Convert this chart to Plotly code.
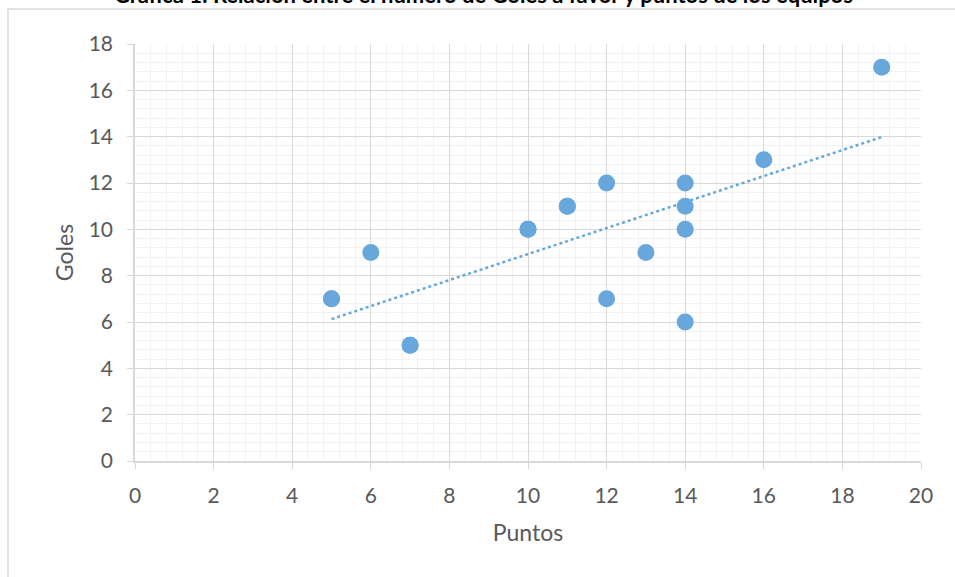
import numpy as np
import plotly.graph_objects as go

# Puntos (x) y goles (y) de cada equipo
puntos = [5, 5, 6, 7, 7, 10, 10, 11, 11, 12, 12, 13, 14, 14, 14, 14, 16, 19]
goles = [7, 7, 9, 5, 5, 10, 10, 11, 11, 12, 7, 9, 12, 11, 10, 6, 13, 17]

titulo = "Gráfica 1: Relación entre el número de Goles a favor y puntos de los equipos"

BLUE = "#67A7DC"
GRID = "#D9D9D9"
MINOR = "#F2F2F2"
TXT = "#595959"
FONT = "Lato"

W, H = 955, 577
L, R, T, B = 135, 34, 44, 116
pw, ph = W - L - R, H - T - B


def px_x(p):
    return (p - L) / pw


def px_y(p):
    return (H - B - p) / ph


# linea de tendencia lineal (ajuste por minimos cuadrados, como en Excel)
m, c = np.polyfit(puntos, goles, 1)
tx = [min(puntos), max(puntos)]
ty = [m * v + c for v in tx]

fig = go.Figure()
fig.add_trace(go.Scatter(x=tx, y=ty, mode="lines", hoverinfo="skip",
                         line=dict(color=BLUE, width=2.5, dash="dot")))
fig.add_trace(go.Scatter(x=puntos, y=goles, mode="markers",
                         marker=dict(color=BLUE, size=17,
                                     line=dict(width=0))))

axis_common = dict(
    showline=True, linecolor=GRID, linewidth=1.5,
    ticks="outside", ticklen=6, tickcolor=GRID, tickwidth=1,
    showgrid=True, gridcolor=GRID, gridwidth=1,
    zeroline=False, dtick=2, tick0=0,
    tickfont=dict(family=FONT, size=21, color=TXT),
    minor=dict(dtick=0.4, tick0=0, showgrid=True, gridcolor=MINOR, gridwidth=1),
)

fig.update_xaxes(range=[0, 20], **axis_common, ticklabelstandoff=9,
                 title=dict(text="Puntos", font=dict(family=FONT, size=23, color=TXT),
                            standoff=19))
fig.update_yaxes(range=[0, 18], **axis_common, ticklabelstandoff=10,
                 title=dict(text="Goles", font=dict(family=FONT, size=23, color=TXT),
                            standoff=9))

# borde del area del grafico
fig.add_shape(type="rect", xref="paper", yref="paper",
              x0=px_x(8), x1=px_x(990), y0=px_y(600), y1=px_y(9),
              line=dict(color=GRID, width=1.5), fillcolor="rgba(0,0,0,0)", layer="below")

# titulo (recortado por el borde superior, como en la imagen original)
fig.add_annotation(text="<b>" + titulo + "</b>", xref="paper", yref="paper",
                   x=px_x(855), y=px_y(10), xanchor="right", yanchor="bottom",
                   showarrow=False, font=dict(family=FONT, size=22, color="#000000"))

fig.update_layout(width=W, height=H, showlegend=False,
                  margin=dict(l=L, r=R, t=T, b=B),
                  plot_bgcolor="white", paper_bgcolor="white")

fig.write_html("out.html", config={"displayModeBar": False},
               post_script="document.body.style.margin='0';")
